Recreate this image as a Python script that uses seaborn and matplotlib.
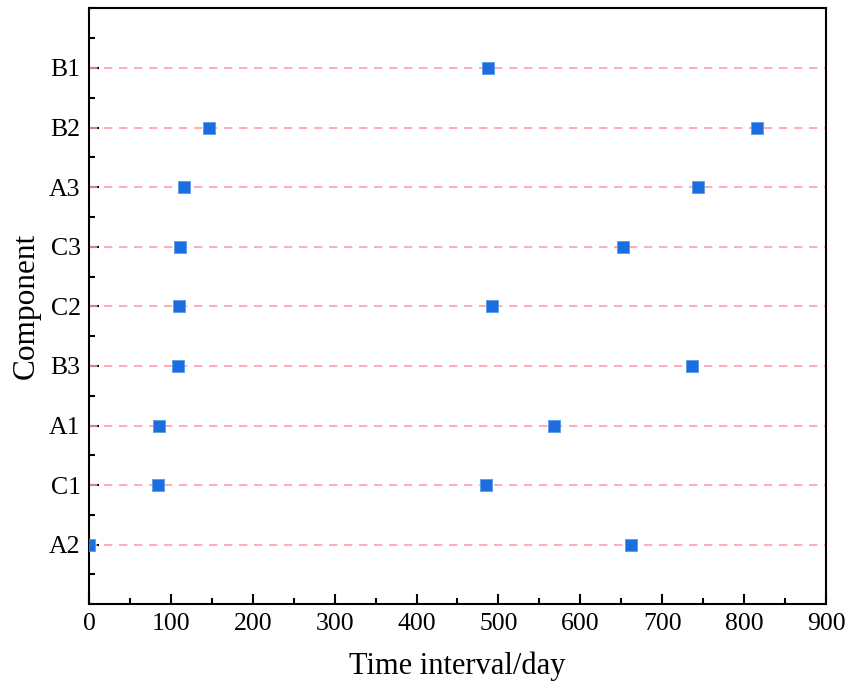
import matplotlib
matplotlib.use("Agg")
import matplotlib.pyplot as plt
import seaborn as sns
import pandas as pd
from matplotlib.ticker import MultipleLocator

components = ["A2", "C1", "A1", "B3", "C2", "C3", "A3", "B2", "B1"]
first_time = [0, 84, 85.5, 109, 110, 111, 116, 146.5, 487]
second_time = [662, 485, 568, 736, 492, 652, 744, 815.5, None]

rows = []
for i, c in enumerate(components):
    for t in (first_time[i], second_time[i]):
        if t is not None:
            rows.append({"Component": c, "pos": i, "time": t})
df = pd.DataFrame(rows)

sns.set_style("ticks")
plt.rcParams['font.family'] = ['Liberation Serif', 'DejaVu Serif']
plt.rcParams['text.color'] = 'black'
plt.rcParams['axes.labelcolor'] = 'black'

fig = plt.figure(figsize=(8.48, 6.93), dpi=100)
ax = fig.add_axes([0.105, 0.128, 0.869, 0.86])

for i in range(len(components)):
    ax.axhline(i, color="#ff9ea6", lw=1.2, ls=(0, (5, 4)), zorder=1)

sns.scatterplot(data=df, x="time", y="pos", marker="s", s=85, color="#1a6ee0",
                edgecolor="#5a9ae8", linewidth=0.6, ax=ax, zorder=3, legend=False)

ax.set_xlim(0, 900)
ax.set_ylim(-1, 9)
ax.set_yticks(range(len(components)))
ax.set_yticklabels(components)
ax.xaxis.set_major_locator(MultipleLocator(100))
ax.xaxis.set_minor_locator(MultipleLocator(50))
ax.yaxis.set_minor_locator(MultipleLocator(0.5))
ax.tick_params(axis="both", which="major", direction="in", length=7, width=1.5,
               labelsize=18.5, top=False, right=False, colors="black",
               labelcolor="black", pad=6)
ax.tick_params(axis="both", which="minor", direction="in", length=4, width=1.5,
               top=False, right=False, colors="black")
for s in ax.spines.values():
    s.set_linewidth(1.5)
    s.set_color("black")
ax.set_xlabel("Time interval/day", fontsize=22, labelpad=12)
ax.set_ylabel("Component", fontsize=22.5, labelpad=6)

fig.savefig("out.png", dpi=100)
